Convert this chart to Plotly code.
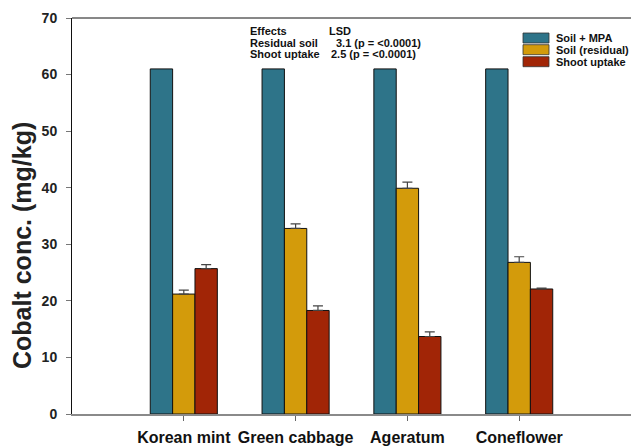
import plotly.graph_objects as go

# Plant species (x categories)
plants = ["Korean mint", "Green cabbage", "Ageratum", "Coneflower"]

# Cobalt concentrations (mg/kg)
soil_mpa = [61.0, 61.0, 61.0, 61.0]
soil_residual = [21.2, 32.8, 39.9, 26.8]
shoot_uptake = [25.7, 18.3, 13.7, 22.1]

# Upper error (standard error)
soil_residual_err = [0.7, 0.8, 1.1, 1.0]
shoot_uptake_err = [0.7, 0.8, 0.8, 0.15]

series_names = ["Soil + MPA", "Soil (residual)", "Shoot uptake"]
series_colors = ["#2E7489", "#D39B0B", "#A12506"]

FONT = "Liberation Sans, Arial, sans-serif"

# plot-area geometry in pixels
W, H = 631, 448
L, R, T, B = 72, 0, 18, 34
PW, PH = W - L - R, H - T - B


def px(x):
    return (x - L) / PW


def py(y):
    return (H - B - y) / PH


fig = go.Figure()

values = [soil_mpa, soil_residual, shoot_uptake]
errors = [None, soil_residual_err, shoot_uptake_err]
for name, color, vals, err in zip(series_names, series_colors, values, errors):
    kw = {}
    if err is not None:
        kw["error_y"] = dict(type="data", array=err, arrayminus=[0] * len(err),
                             symmetric=False, color="#444444", thickness=1.2, width=5)
    fig.add_trace(go.Bar(
        x=list(range(len(plants))), y=vals, name=name,
        marker=dict(color=color, line=dict(color="#111111", width=1)),
        showlegend=False, **kw))

fig.update_layout(
    width=W, height=H,
    margin=dict(l=L, r=R, t=T, b=B),
    plot_bgcolor="white", paper_bgcolor="white",
    barmode="group", bargap=0.4, bargroupgap=0,
    font=dict(family=FONT, color="#222222"),
    xaxis=dict(range=[-1, 4], tickmode="array", tickvals=list(range(len(plants))),
               ticktext=[f"<b>{p}</b>" for p in plants],
               showline=True, linecolor="#8a8a8a", linewidth=2,
               ticks="outside", ticklen=5, tickcolor="#666666", tickwidth=1,
               tickfont=dict(size=16, family=FONT, color="#111111"),
               ticklabelstandoff=3,
               showgrid=False, zeroline=False),
    yaxis=dict(range=[0, 70], tickmode="array", tickvals=list(range(0, 71, 10)),
               ticktext=[f"<b>{v}</b>" for v in range(0, 71, 10)],
               showline=True, linecolor="#111111", linewidth=1,
               ticks="outside", ticklen=5, tickcolor="#777777", tickwidth=1,
               tickfont=dict(size=14, family=FONT, color="#222222"),
               ticklabelstandoff=6,
               showgrid=False, zeroline=False),
)

shapes = []
annotations = []

# top frame line
shapes.append(dict(type="line", xref="paper", yref="paper", x0=0, x1=1, y0=1, y1=1,
                   line=dict(color="#111111", width=1)))

# y-axis title
annotations.append(dict(text="<b>Cobalt conc. (mg/kg)</b>", xref="paper", yref="paper",
                        x=px(22), y=py(246), textangle=-90, showarrow=False,
                        font=dict(size=25, family=FONT, color="#222222"),
                        xanchor="center", yanchor="middle"))

# legend
legend_rows = [38, 49.7, 61.7]
for name, color, yc in zip(series_names, series_colors, legend_rows):
    shapes.append(dict(type="rect", xref="paper", yref="paper",
                       x0=px(523), x1=px(549), y0=py(yc - 5), y1=py(yc + 5),
                       fillcolor=color, line=dict(color="#333333", width=0.8)))
    annotations.append(dict(text=f"<b>{name}</b>", xref="paper", yref="paper",
                            x=px(554), y=py(yc), xanchor="left", yanchor="middle",
                            showarrow=False, font=dict(size=11, family=FONT, color="#111111")))

# LSD table
lsd_left = ["Effects", "Residual soil", "Shoot uptake"]
lsd_right = ["LSD", "3.1 (p = <0.0001)", "2.5 (p = <0.0001)"]
lsd_right_x = [327, 334, 329]
lsd_rows = [31, 43, 54.5]
for lt, rt, rx, yc in zip(lsd_left, lsd_right, lsd_right_x, lsd_rows):
    annotations.append(dict(text=f"<b>{lt}</b>", xref="paper", yref="paper",
                            x=px(248), y=py(yc), xanchor="left", yanchor="middle",
                            showarrow=False, font=dict(size=11, family=FONT, color="#111111")))
    annotations.append(dict(text=f"<b>{rt}</b>", xref="paper", yref="paper",
                            x=px(rx), y=py(yc), xanchor="left", yanchor="middle",
                            showarrow=False, font=dict(size=11, family=FONT, color="#111111")))

fig.update_layout(shapes=shapes, annotations=annotations)

fig.write_html("out.html")
